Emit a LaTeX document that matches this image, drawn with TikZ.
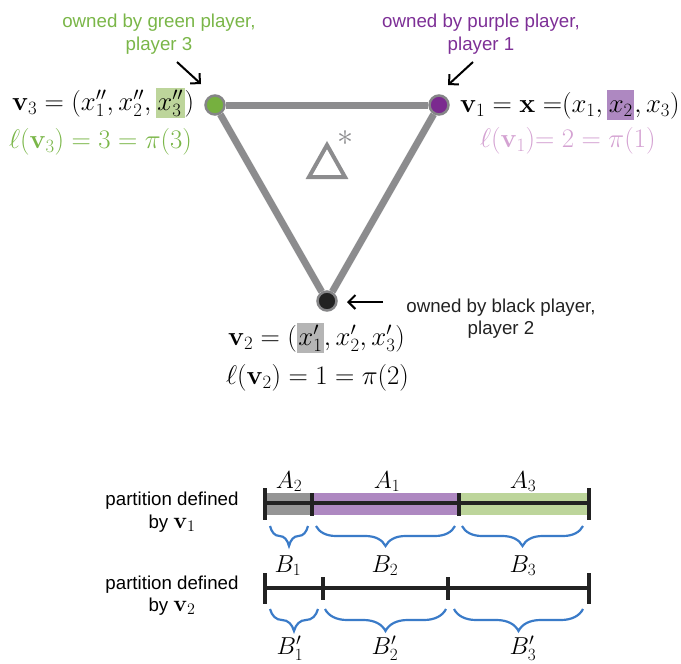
\documentclass[tikz,border=0pt]{standalone}
\DeclareFontFamily{OT1}{cmr}{\hyphenchar\font45 }
\DeclareFontShape{OT1}{cmr}{m}{n}{<-6>cmr5<6-7>cmr6<7-8>cmr7<8-9>cmr8<9-10>cmr9<10-12>cmr10<12-17>cmr12<17->cmr17}{}
\DeclareFontShape{OT1}{cmr}{bx}{n}{<-6>cmbx5<6-7>cmbx6<7-8>cmbx7<8-9>cmbx8<9-10>cmbx9<10-12>cmbx10<12->cmbx12}{}
\DeclareFontFamily{OML}{cmm}{\skewchar\font127 }
\DeclareFontShape{OML}{cmm}{m}{it}{<-6>cmmi5<6-7>cmmi6<7-8>cmmi7<8-9>cmmi8<9-10>cmmi9<10-12>cmmi10<12->cmmi12}{}
\DeclareFontFamily{OMS}{cmsy}{\skewchar\font48 }
\DeclareFontShape{OMS}{cmsy}{m}{n}{<-6>cmsy5<6-7>cmsy6<7-8>cmsy7<8-9>cmsy8<9-10>cmsy9<10->cmsy10}{}
\DeclareFontFamily{OMX}{cmex}{}
\DeclareFontShape{OMX}{cmex}{m}{n}{<->cmex10}{}
\usepackage[no-math]{fontspec}
\setmainfont{Liberation Sans}
\usetikzlibrary{arrows.meta,decorations.pathreplacing}
\definecolor{gtext}{HTML}{7AB648}
\definecolor{ptext}{HTML}{7D2F96}
\definecolor{ltext}{HTML}{D4A2D2}
\definecolor{btext}{HTML}{222222}
\definecolor{gnode}{HTML}{76B03F}
\definecolor{pnode}{HTML}{7B2A8F}
\definecolor{bnode}{HTML}{222222}
\definecolor{vgray}{HTML}{858587}
\definecolor{egray}{HTML}{8C8C8E}
\definecolor{hlgreen}{HTML}{BDD59B}
\definecolor{hlpurple}{HTML}{AE88C1}
\definecolor{hlgray}{HTML}{B5B5B5}
\definecolor{bargray}{HTML}{959595}
\definecolor{braceblue}{HTML}{3A7BC8}
\newcommand{\hlbox}[2]{{\setlength{\fboxsep}{1.5pt}\colorbox{#1}{$\vphantom{(}#2$}}}
\begin{document}
\begin{tikzpicture}[x=1pt,y=-1pt,
  mtext/.style={inner sep=0pt, font=\fontsize{26.8}{31}\selectfont},
  labtext/.style={inner sep=0pt, anchor=base, font=\fontsize{24.5}{28}\selectfont},
  otext/.style={inner sep=0pt, anchor=base, font=\fontsize{18.7}{23}\selectfont},
  vert/.style={circle, draw=vgray, line width=2.5pt, minimum size=19pt, inner sep=0pt},
  edge/.style={draw=egray, line width=7pt},
  parrow/.style={draw=black, line width=2pt, -{Straight Barb[length=7pt,width=14pt,line width=2pt]}},
  bar/.style={draw=btext, line width=4.5pt},
  tick/.style={draw=btext, line width=4.8pt},
  cbrace/.style={draw=braceblue, line width=2.2pt, decorate, decoration={brace, mirror, amplitude=#1}},
]
\useasboundingbox (0,0) rectangle (681,664);

% vertices and edges
\node[vert, fill=gnode] (v3) at (215,105) {};
\node[vert, fill=pnode] (v1) at (439,105) {};
\node[vert, fill=bnode] (v2) at (327,301) {};
\draw[edge] (v3) -- (v1);
\draw[edge] (v1) -- (v2);
\draw[edge] (v2) -- (v3);

% Delta star
\coordinate (d1) at (327,145);
\coordinate (d2) at (345,177);
\coordinate (d3) at (309,177);
\draw[draw=egray, line width=4pt, line join=miter] (d1) -- (d2) -- (d3) -- cycle;
\node[inner sep=0pt, text=egray, font=\fontsize{32}{36}\selectfont] (ast) at (345,138) {$\ast$};

% owner texts
\node[otext, text=gtext] (g1) at (159,27) {owned by green player,};
\node[otext, text=gtext] (g2) at (159,50) {player 3};
\node[otext, text=ptext] (p1) at (481,27) {owned by purple player,};
\node[otext, text=ptext] (p2) at (481,50) {player 1};
\node[otext, text=btext] (b1) at (501,312) {owned by black player,};
\node[otext, text=btext] (b2) at (501,334) {player 2};

% arrows
\coordinate (ga) at (177,62); \coordinate (gb) at (201,84);
\coordinate (pa) at (473,62); \coordinate (pb) at (448,85);
\coordinate (ba) at (383,302); \coordinate (bb) at (347,302);
\draw[parrow] (ga) -- (gb);
\draw[parrow] (pa) -- (pb);
\draw[parrow] (ba) -- (bb);

% vertex formulas
\node[mtext, anchor=base west] (v3t) at (12,110) {$\mathbf{v}_3 = (x''_1, x''_2, \hlbox{hlgreen}{x''_3})$};
\node[mtext, anchor=base west, text=gtext] (l3t) at (9,148) {$\ell(\mathbf{v}_3) = 3 = \pi(3)$};
\node[mtext, anchor=base west] (v1t) at (460,112) {$\mathbf{v}_1 = \mathbf{x} =\mkern-5mu(x_1, \hlbox{hlpurple}{x_2}, x_3)$};
\node[mtext, anchor=base west, text=ltext] (l1t) at (480,147) {$\ell(\mathbf{v}_1)\mkern-5mu= 2 = \pi(1)$};
\node[mtext, anchor=base west] (v2t) at (228,345) {$\mathbf{v}_2 = (\hlbox{hlgray}{x'_1}, x'_2, x'_3)$};
\node[mtext, anchor=base west] (l2t) at (226,384) {$\ell(\mathbf{v}_2) = 1 = \pi(2)$};

% partition 1
\fill[bargray] (265,493) rectangle (312,515);
\fill[hlpurple] (312,493) rectangle (459,515);
\fill[hlgreen] (459,493) rectangle (589,515);
\draw[bar] (265,503) -- (589,503);
\draw[tick] (265,488) -- (265,520);
\draw[tick] (589,488) -- (589,520);
\draw[tick] (312,493) -- (312,516);
\draw[tick] (459,493) -- (459,516);
\node[labtext] (A2) at (289,488) {$A_2$};
\node[labtext] (A1) at (387,488) {$A_1$};
\node[labtext] (A3) at (523,488) {$A_3$};
\draw[cbrace=20pt] (270,526) -- (308,526);
\draw[cbrace=20pt] (316,526) -- (455,526);
\draw[cbrace=20pt] (462,526) -- (583,526);
\node[labtext] (B1) at (288,572) {$B_1$};
\node[labtext] (B2) at (385,572) {$B_2$};
\node[labtext] (B3) at (523,572) {$B_3$};

% partition 2
\draw[bar] (265,588) -- (589,588);
\draw[tick] (265,573) -- (265,604);
\draw[tick] (589,573) -- (589,604);
\draw[tick] (323,577) -- (323,600);
\draw[tick] (448,577) -- (448,600);
\draw[cbrace=22pt] (270,609) -- (318,609);
\draw[cbrace=22pt] (325,609) -- (446,609);
\draw[cbrace=22pt] (454,609) -- (583,609);
\node[labtext] (C1) at (290,654) {$B'_1$};
\node[labtext] (C2) at (385,654) {$B'_2$};
\node[labtext] (C3) at (523,654) {$B'_3$};

% partition texts
\node[otext] (t1) at (172,505) {partition defined};
\node[otext] (t2) at (172,528) {by {\fontsize{23}{27}\selectfont$\mathbf{v}_1$}};
\node[otext] (t3) at (172,589) {partition defined};
\node[otext] (t4) at (172,611) {by {\fontsize{23}{27}\selectfont$\mathbf{v}_2$}};
\end{tikzpicture}
\end{document}
